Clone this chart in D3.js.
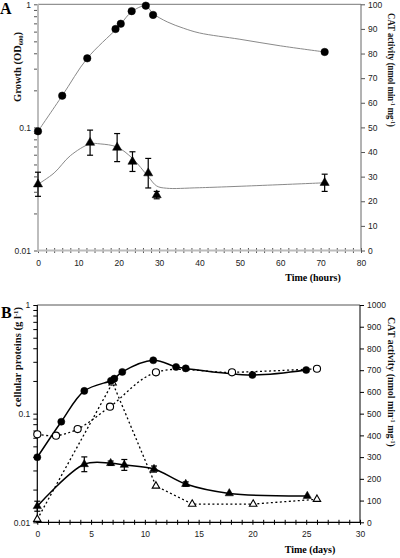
<!DOCTYPE html>
<html><head><meta charset="utf-8">
<script src="https://cdn.jsdelivr.net/npm/d3@7"></script>
<style>body{margin:0;background:#fff}svg{display:block}</style>
</head><body>
<svg id="c" width="400" height="558"></svg>
<script>
// ---------- Panel A data ----------
const aGrowthT = [0, 6, 12.2, 19.2, 20.5, 23.2, 26.7, 28.5, 71];
const aGrowthV = [0.093, 0.181, 0.364, 0.63, 0.695, 0.88, 0.975, 0.82, 0.41];
const aCatT = [0, 12.9, 19.6, 23.4, 27.3, 29.4, 71];
const aCatV = [26.9, 43.8, 41.8, 36.1, 31.4, 22.5, 27.5];
const aCatErr = [4.9, 5.1, 5.7, 4.0, 6.0, 1.5, 3.5];
const aGrowthFitT = [0, 6, 12.2, 19.2, 20.5, 23.2, 26.7, 28.5, 32, 36, 40, 50, 60, 71];
const aGrowthFitV = [0.093, 0.181, 0.364, 0.62, 0.69, 0.87, 0.97, 0.84, 0.72, 0.64, 0.585, 0.52, 0.46, 0.41];
const aCatFitT = [0, 4, 8, 12.9, 15.4, 19.6, 23.4, 27.3, 29.4, 31.8, 40, 71];
const aCatFitV = [26.9, 31.5, 38.5, 43.3, 43.3, 42, 37.4, 30, 26.2, 25.3, 25.5, 27.5];
const aXTicks = [0, 10, 20, 30, 40, 50, 60, 70, 80];
const aYTicks = [0.01, 0.1, 1];
const aRTicks = [0, 10, 20, 30, 40, 50, 60, 70, 80, 90, 100];

// ---------- Panel B data ----------
const bProtT = [0, 2.23, 4.37, 6.85, 7.16, 7.9, 10.78, 12.9, 13.8, 20.0, 25.0];
const bProtV = [0.0397, 0.0843, 0.162, 0.201, 0.21, 0.242, 0.31, 0.269, 0.261, 0.227, 0.252];
const bProtOpenT = [0, 1.74, 3.75, 6.76, 11.03, 18.1, 26.0];
const bProtOpenV = [0.0645, 0.0627, 0.0722, 0.116, 0.24, 0.24, 0.259];
const bCatT = [0, 4.37, 6.82, 8.09, 10.85, 13.8, 17.85, 25.1];
const bCatV = [74, 267, 272, 264, 245, 176, 133, 121];
const bCatErr = [23, 34, 10, 25, 14, 10, 0, 0];
const bCatOpenT = [0, 7.0, 11.03, 14.4, 20.07, 26.0];
const bCatOpenV = [14, 642, 167, 84, 84, 106];
const bXTicks = [0, 5, 10, 15, 20, 25, 30];
const bYTicks = [0.01, 0.1, 1];
const bRTicks = [0, 100, 200, 300, 400, 500, 600, 700, 800, 900, 1000];

const svg = d3.select("#c");
const SERIF = "'Liberation Serif','Times New Roman',serif";
const SANS = "'Liberation Sans',Arial,sans-serif";

function minorLog(dom) {
  const out = [];
  for (let e = Math.log10(dom[0]); e < Math.log10(dom[1]); e++)
    for (let k = 1; k <= 9; k++) out.push(k * Math.pow(10, e));
  out.push(dom[1]);
  return out;
}
function fitLen(sel, len) {
  const n = sel.node();
  const l = n.getComputedTextLength();
  return l > 0 ? len / l : 1;
}
function vtitle(x, y, rot, size, len, parts) {
  const g = svg.append("g");
  const t = g.append("text").attr("font-family", SERIF).attr("font-weight", "bold")
    .attr("font-size", size).attr("text-anchor", "middle").attr("fill", "#111");
  parts.forEach(p => {
    const ts = t.append("tspan").text(p[0]);
    if (p[1] === "sup") ts.attr("font-size", size * 0.62).attr("dy", -size * 0.3);
    if (p[1] === "sub") ts.attr("font-size", size * 0.62).attr("dy", size * 0.2);
    if (p[1] === "back") ts.attr("dy", p[2] * size);
  });
  const s = fitLen(t, len);
  g.attr("transform", `translate(${x},${y}) rotate(${rot}) scale(${s},1)`);
}

function panel(cfg) {
  const g = svg.append("g");
  const x = cfg.x, y = cfg.y, yr = cfg.yr;
  const [x0, x1] = x.range(); const [y0, y1] = y.range();
  const la = d3.axisLeft(y).tickValues(minorLog(y.domain())).tickSize(cfg.tickL)
    .tickFormat(d => cfg.yTicks.includes(d) ? (d === 1 ? "1" : String(d)) : "");
  const lg = g.append("g").attr("transform", `translate(${x0},0)`).call(la);
  lg.select(".domain").remove();
  lg.selectAll(".tick line").attr("stroke", cfg.tickCol);
  lg.selectAll("text").attr("font-family", SANS).attr("font-size", 8.5).attr("fill", "#222").attr("x", -cfg.tickL - 3);
  const ra = d3.axisRight(yr).tickValues(cfg.rTicks).tickSize(4).tickFormat(d3.format("d"));
  const rg = g.append("g").attr("transform", `translate(${x1},0)`).call(ra);
  rg.select(".domain").remove();
  rg.selectAll(".tick line").attr("stroke", cfg.tickCol);
  rg.selectAll("text").attr("font-family", SANS).attr("font-size", 8.5).attr("fill", "#222").attr("x", 7);
  const ba = d3.axisBottom(x).tickValues(cfg.minorX).tickSize(0)
    .tickFormat(d => cfg.xTicks.includes(d) ? String(d) : "");
  const bg = g.append("g").attr("transform", `translate(0,${y0})`).call(ba);
  bg.select(".domain").remove();
  bg.selectAll(".tick line").attr("y1", -2.5).attr("y2", 2.5).attr("stroke", cfg.tickCol);
  bg.selectAll("text").attr("font-family", SANS).attr("font-size", 8.5).attr("fill", "#222").attr("y", 9).attr("dy", "0.71em");
  g.append("line").attr("x1", x0).attr("x2", x1).attr("y1", y1).attr("y2", y1).attr("stroke", cfg.topCol).attr("stroke-width", 1);
  g.append("line").attr("x1", x1).attr("x2", x1).attr("y1", y1).attr("y2", y0).attr("stroke", cfg.rightCol).attr("stroke-width", 1);
  g.append("line").attr("x1", x0).attr("x2", x0).attr("y1", y1).attr("y2", y0 + 1).attr("stroke", cfg.axCol).attr("stroke-width", cfg.axW);
  g.append("line").attr("x1", x0 - 1).attr("x2", x1).attr("y1", y0).attr("y2", y0).attr("stroke", cfg.axCol).attr("stroke-width", cfg.axW);
  return g;
}

function errorBars(g, xs, ys, es, x, y, cap) {
  xs.forEach((t, i) => {
    if (!es[i]) return;
    const cx = x(t), top = y(ys[i] + es[i]), bot = y(ys[i] - es[i]);
    g.append("line").attr("x1", cx).attr("x2", cx).attr("y1", top).attr("y2", bot).attr("stroke", "#000").attr("stroke-width", 1.2);
    g.append("line").attr("x1", cx - cap).attr("x2", cx + cap).attr("y1", top).attr("y2", top).attr("stroke", "#000").attr("stroke-width", 1.2);
    g.append("line").attr("x1", cx - cap).attr("x2", cx + cap).attr("y1", bot).attr("y2", bot).attr("stroke", "#000").attr("stroke-width", 1.2);
  });
}
function symbols(g, xs, ys, x, y, type, size, fill) {
  const sym = d3.symbol().type(type).size(size);
  xs.forEach((t, i) => {
    g.append("path").attr("d", sym()).attr("transform", `translate(${x(t)},${y(ys[i])})`)
      .attr("fill", fill).attr("stroke", "#000").attr("stroke-width", fill === "#fff" ? 1.1 : 0.5);
  });
}

// ================= PANEL A =================
const xA = d3.scaleLinear().domain([0, 80]).range([38, 361]);
const yA = d3.scaleLog().domain([0.01, 1]).range([250.5, 4.3]);
const yAR = d3.scaleLinear().domain([0, 100]).range([250.5, 4.3]);
const gA = panel({x: xA, y: yA, yr: yAR, tickL: 4, tickCol: "#555", topCol: "#777", rightCol: "#666",
  axCol: "#bdbdbd", axW: 2, yTicks: aYTicks, rTicks: aRTicks, xTicks: aXTicks, minorX: d3.range(0, 81, 2)});

const lineA = d3.line().curve(d3.curveCatmullRom.alpha(0.5));
gA.append("path").attr("d", lineA(aGrowthFitT.map((t, i) => [xA(t), yA(aGrowthFitV[i])])))
  .attr("fill", "none").attr("stroke", "#8a8a8a").attr("stroke-width", 1);
gA.append("path").attr("d", lineA(aCatFitT.map((t, i) => [xA(t), yAR(aCatFitV[i])])))
  .attr("fill", "none").attr("stroke", "#8a8a8a").attr("stroke-width", 1);
errorBars(gA, aCatT, aCatV, aCatErr, xA, yAR, 3);
symbols(gA, aGrowthT, aGrowthV, xA, yA, d3.symbolCircle, 44, "#000");
symbols(gA, aCatT, aCatV, xA, yAR, d3.symbolTriangle, 36, "#000");

svg.append("text").attr("x", 0).attr("y", 14).attr("font-family", SERIF).attr("font-weight", "bold")
  .attr("font-size", 16).text("A");
vtitle(21, 67, -90, 11, 70, [["Growth (OD"], ["600", "sub"], [")", "back", -0.2]]);
vtitle(388, 70, 90, 10.5, 114, [["CAT activity (nmol min"], ["-1", "sup"], [" mg", "back", 0.3], ["-1", "sup"], [")", "back", 0.3]]);
svg.append("text").attr("x", 313).attr("y", 281).attr("text-anchor", "middle").attr("font-family", SERIF)
  .attr("font-weight", "bold").attr("font-size", 10).text("Time (hours)");

// ================= PANEL B =================
const xB = d3.scaleLinear().domain([0, 30]).range([37.3, 360]);
const yB = d3.scaleLog().domain([0.01, 1]).range([522.3, 305]);
const yBR = d3.scaleLinear().domain([0, 1000]).range([522.3, 305]);
const gB = panel({x: xB, y: yB, yr: yBR, tickL: 4, tickCol: "#000", topCol: "#555", rightCol: "#000",
  axCol: "#000", axW: 1.2, yTicks: bYTicks, rTicks: bRTicks, xTicks: bXTicks, minorX: d3.range(0, 31, 1)});

const smooth = d3.line().curve(d3.curveCatmullRom.alpha(0.5));
const straight = d3.line();
gB.append("path").attr("d", smooth(bProtOpenT.map((t, i) => [xB(t), yB(bProtOpenV[i])])))
  .attr("fill", "none").attr("stroke", "#000").attr("stroke-width", 1.3).attr("stroke-dasharray", "2,2.5");
gB.append("path").attr("d", straight(bCatOpenT.map((t, i) => [xB(t), yBR(bCatOpenV[i])])))
  .attr("fill", "none").attr("stroke", "#000").attr("stroke-width", 1.3).attr("stroke-dasharray", "2,2.5");
gB.append("path").attr("d", smooth(bProtT.map((t, i) => [xB(t), yB(bProtV[i])])))
  .attr("fill", "none").attr("stroke", "#000").attr("stroke-width", 1.5);
gB.append("path").attr("d", smooth(bCatT.map((t, i) => [xB(t), yBR(bCatV[i])])))
  .attr("fill", "none").attr("stroke", "#000").attr("stroke-width", 1.5);
errorBars(gB, bCatT, bCatV, bCatErr, xB, yBR, 3);
symbols(gB, bProtOpenT, bProtOpenV, xB, yB, d3.symbolCircle, 40, "#fff");
symbols(gB, bCatOpenT, bCatOpenV, xB, yBR, d3.symbolTriangle, 24, "#fff");
symbols(gB, bProtT, bProtV, xB, yB, d3.symbolCircle, 40, "#000");
symbols(gB, bCatT, bCatV, xB, yBR, d3.symbolTriangle, 30, "#000");

svg.append("text").attr("x", 1).attr("y", 318).attr("font-family", SERIF).attr("font-weight", "bold")
  .attr("font-size", 16).text("B");
vtitle(21, 357, -90, 10, 100, [["cellular proteins (g l"], ["-1", "sup"], [")", "back", 0.3]]);
vtitle(388, 382, 90, 10.5, 130, [["CAT activity (nmol min"], ["-1", "sup"], [" mg", "back", 0.3], ["-1", "sup"], [")", "back", 0.3]]);
svg.append("text").attr("x", 310).attr("y", 553).attr("text-anchor", "middle").attr("font-family", SERIF)
  .attr("font-weight", "bold").attr("font-size", 10).text("Time (days)");
</script>
</body></html>
